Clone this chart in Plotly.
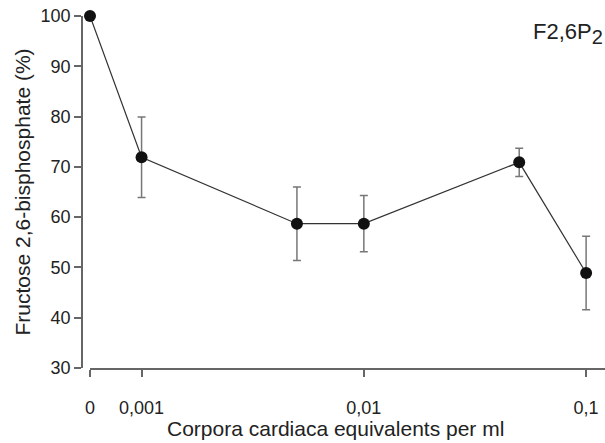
import plotly.graph_objects as go

# Data
concentrations = [0, 0.001, 0.005, 0.01, 0.05, 0.1]   # corpora cardiaca equivalents per ml
f26p2_percent = [100, 71.9, 58.7, 58.7, 70.9, 48.9]
sem = [0, 8.0, 7.3, 5.6, 2.8, 7.3]
tick_values = [0, 0.001, 0.01, 0.1]
tick_labels = ["0", "0,001", "0,01", "0,1"]
y_ticks = [30, 40, 50, 60, 70, 80, 90, 100]
zero_plot_pos = 10 ** -3.232  # where "0" is drawn on the log axis

def pos(c):
    return zero_plot_pos if c == 0 else c

xs = [pos(c) for c in concentrations]
xt = [pos(c) for c in tick_values]

fig = go.Figure()
fig.add_trace(go.Scatter(
    x=xs, y=f26p2_percent, mode="lines+markers",
    line=dict(color="#333333", width=1.2),
    marker=dict(color="#111111", size=12),
    error_y=dict(type="data", array=sem, visible=True, color="#777777", thickness=1.5, width=4),
    cliponaxis=False, showlegend=False,
))

axis_color = "#666666"
fam = "Liberation Sans, Arial, sans-serif"
tick_font = dict(family=fam, size=18, color="#222222")
title_font = dict(family=fam, size=21, color="#222222")

fig.update_layout(
    width=605, height=443,
    margin=dict(l=82, r=0, t=16, b=75),
    plot_bgcolor="white", paper_bgcolor="white",
    font=tick_font,
    xaxis=dict(
        type="log", range=[-3.232, -0.915], domain=[8/523, 1],
        tickvals=xt, ticktext=tick_labels, tickfont=tick_font,
        showline=True, linecolor=axis_color, linewidth=1.5,
        ticks="outside", ticklen=7, tickcolor=axis_color, tickwidth=1.5,
        showgrid=False, zeroline=False, ticklabelstandoff=16, automargin=False,
    ),
    yaxis=dict(
        range=[30, 100], anchor="free", position=0,
        tickvals=y_ticks, tickfont=tick_font,
        showline=True, linecolor=axis_color, linewidth=1.5,
        ticks="outside", ticklen=7, tickcolor=axis_color, tickwidth=1.5,
        showgrid=False, zeroline=False, automargin=False,
        title=dict(text="Fructose 2,6-bisphosphate (%)", standoff=3, font=title_font),
    ),
    annotations=[
        dict(
            text="F2,6P<sub><span style='font-size:20px'>2</span></sub>", xref="paper", yref="paper",
            x=1.0, y=0.95, xanchor="right", yanchor="middle", showarrow=False,
            font=dict(family=fam, size=22, color="#222222"),
        ),
        dict(
            text="Corpora cardiaca equivalents per ml", xref="paper", yref="paper",
            x=0.484, y=-0.172, xanchor="center", yanchor="middle", showarrow=False,
            borderpad=0,
            font=dict(family=fam, size=21, color="#222222"),
        ),
    ],
)

fig.write_html(
    "out.html",
    config={"displayModeBar": False},
    post_script="document.body.style.margin='0';document.body.style.overflow='hidden';",
)
